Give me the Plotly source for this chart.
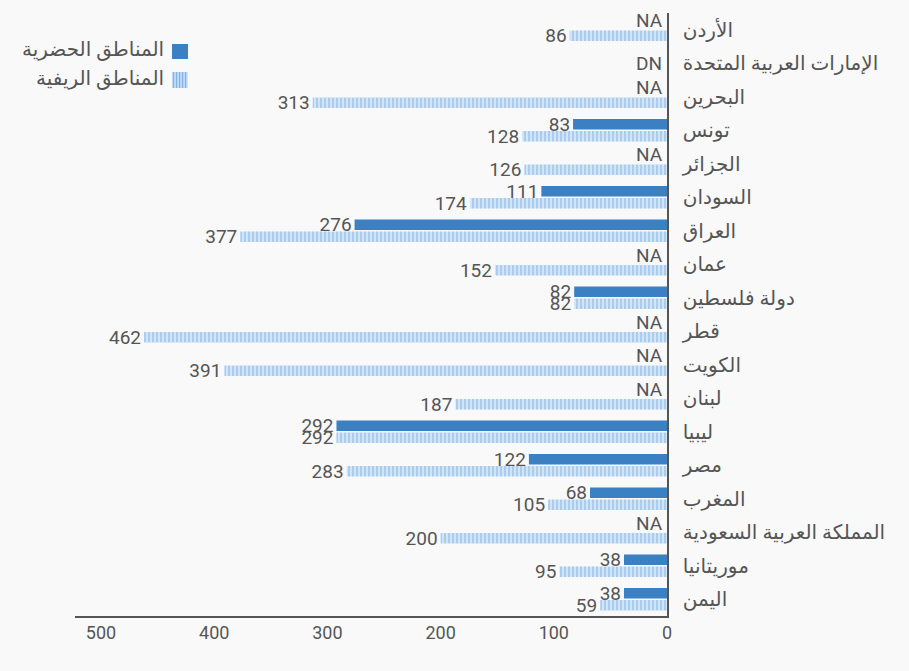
import plotly.graph_objects as go

# Countries, top to bottom
countries = [
    "الأردن", "الإمارات العربية المتحدة", "البحرين", "تونس", "الجزائر",
    "السودان", "العراق", "عمان", "دولة فلسطين", "قطر", "الكويت", "لبنان",
    "ليبيا", "مصر", "المغرب", "المملكة العربية السعودية", "موريتانيا", "اليمن",
]
# None = no data ("NA"); UAE has no data at all ("DN")
urban = [None, None, None, 83, None, 111, 276, None, 82, None, None, None,
         292, 122, 68, None, 38, 38]
rural = [86, None, 313, 128, 126, 174, 377, 152, 82, 462, 391, 187,
         292, 283, 105, 200, 95, 59]
no_data_both = "الإمارات العربية المتحدة"

urban_name = "المناطق الحضرية"
rural_name = "المناطق الريفية"

font_family = "Roboto, Noto Sans, DejaVu Sans, sans-serif"
text_color = "#555555"
urban_color = "#3a80c3"
rural_bg = "#d2e4f7"
rural_fg = "#80b3e8"
label_size = 19

urban_text = [str(v) if v is not None else "" for v in urban]
rural_text = [str(v) if v is not None else "" for v in rural]

fig = go.Figure()
fig.add_trace(go.Bar(
    y=countries, x=urban, orientation="h", name=urban_name,
    marker=dict(color=urban_color, line=dict(width=0)),
    text=urban_text, textposition="outside", cliponaxis=False,
    constraintext="none",
    textfont=dict(color=text_color, size=label_size),
))
fig.add_trace(go.Bar(
    y=countries, x=rural, orientation="h", name=rural_name,
    marker=dict(
        color=rural_bg, line=dict(width=0),
        pattern=dict(shape="|", fgcolor=rural_fg, bgcolor=rural_bg,
                     size=4, solidity=0.5, fillmode="overlay"),
    ),
    text=rural_text, textposition="outside", cliponaxis=False,
    constraintext="none",
    textfont=dict(color=text_color, size=label_size),
))

# 2. "NA" labels for missing urban values, "DN" for the country with no data
for c, u in zip(countries, urban):
    if u is not None:
        continue
    if c == no_data_both:
        fig.add_annotation(x=0, y=c, xref="x", yref="y", text="DN",
                           showarrow=False, xanchor="right", xshift=-3,
                           font=dict(color=text_color, size=label_size))
    else:
        fig.add_annotation(x=0, y=c, xref="x", yref="y", text="NA",
                           showarrow=False, xanchor="right", xshift=-2,
                           yshift=9, font=dict(color=text_color, size=label_size))

# 3. Hand-made legend (swatch on the right of the text, RTL style)
fig.add_shape(type="rect", xref="paper", yref="paper",
              x0=0.1639, x1=0.1909, y0=0.9237, y1=0.9486,
              fillcolor=urban_color, line=dict(width=0))
fig.add_shape(type="rect", xref="paper", yref="paper",
              x0=0.1639, x1=0.1909, y0=0.8756, y1=0.9022,
              fillcolor=rural_bg, line=dict(width=0))
for k in range(5):
    xs = 0.1664 + k * 0.0051
    fig.add_shape(type="line", xref="paper", yref="paper",
                  x0=xs, x1=xs, y0=0.8756, y1=0.9022,
                  line=dict(color=rural_fg, width=1.5))
fig.add_annotation(x=0.1537, y=0.9362, xref="paper", yref="paper",
                   text=urban_name, showarrow=False, xanchor="right",
                   yanchor="middle", yshift=2,
                   font=dict(color=text_color, size=20))
fig.add_annotation(x=0.1537, y=0.8889, xref="paper", yref="paper",
                   text=rural_name, showarrow=False, xanchor="right",
                   yanchor="middle", yshift=2,
                   font=dict(color=text_color, size=20))

# 4. Layout
fig.update_layout(
    width=909, height=671,
    barmode="group", bargap=0.28, bargroupgap=0.12,
    showlegend=False,
    paper_bgcolor="#f9f9f9", plot_bgcolor="#f9f9f9",
    font=dict(family=font_family, size=16, color=text_color),
    margin=dict(l=75, r=242, t=13, b=55),
    xaxis=dict(
        range=[523, 0], tickvals=[0, 100, 200, 300, 400, 500],
        showgrid=False, zeroline=False, showline=True,
        linecolor="#555555", linewidth=1.5, ticks="",
        tickfont=dict(size=18, color=text_color),
    ),
    yaxis=dict(
        side="right", autorange="reversed", showgrid=False, zeroline=False,
        showline=True, linecolor="#555555", linewidth=1.5, ticks="",
        ticklabelstandoff=10,
        tickfont=dict(size=20, color=text_color),
    ),
)

fig.write_html("out.html", config={"displayModeBar": False},
               post_script="document.body.style.margin='0';")
